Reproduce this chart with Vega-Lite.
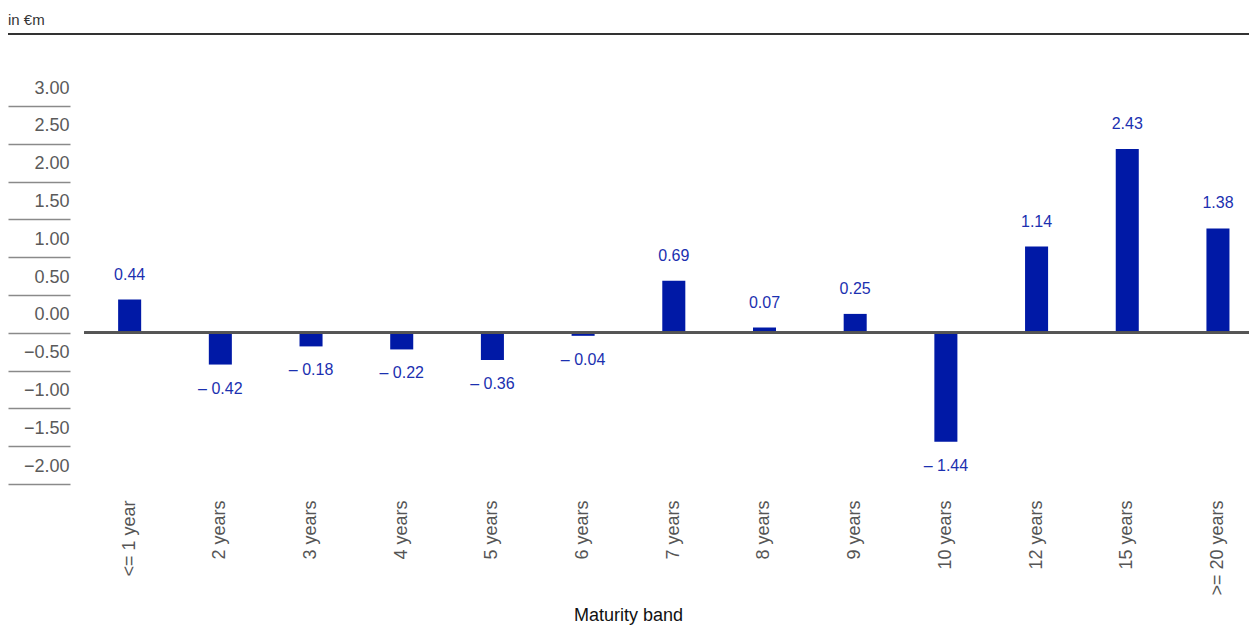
{
  "$schema": "https://vega.github.io/schema/vega-lite/v6.json",
  "autosize": "none",
  "width": 1241,
  "height": 378,
  "padding": {"left": 8, "top": 106, "right": 0, "bottom": 144},
  "background": "white",
  "title": {
    "text": "in €m",
    "anchor": "start",
    "frame": "group",
    "orient": "top",
    "offset": 5,
    "fontSize": 15,
    "fontWeight": "normal",
    "font": "Liberation Sans",
    "color": "#333333"
  },
  "config": {
    "view": {"stroke": null},
    "font": "Liberation Sans"
  },
  "data": {
    "values": [
      {"band": "<= 1 year", "value": 0.44, "label": "0.44"},
      {"band": "2 years", "value": -0.42, "label": "– 0.42"},
      {"band": "3 years", "value": -0.18, "label": "– 0.18"},
      {"band": "4 years", "value": -0.22, "label": "– 0.22"},
      {"band": "5 years", "value": -0.36, "label": "– 0.36"},
      {"band": "6 years", "value": -0.04, "label": "– 0.04"},
      {"band": "7 years", "value": 0.69, "label": "0.69"},
      {"band": "8 years", "value": 0.07, "label": "0.07"},
      {"band": "9 years", "value": 0.25, "label": "0.25"},
      {"band": "10 years", "value": -1.44, "label": "– 1.44"},
      {"band": "12 years", "value": 1.14, "label": "1.14"},
      {"band": "15 years", "value": 2.43, "label": "2.43"},
      {"band": ">= 20 years", "value": 1.38, "label": "1.38"}
    ]
  },
  "encoding": {
    "x": {
      "field": "band",
      "type": "nominal",
      "sort": null,
      "scale": {"range": [76.3, 1255.3], "paddingInner": 0, "paddingOuter": 0},
      "axis": {
        "orient": "bottom",
        "title": "Maturity band",
        "titleFontSize": 18,
        "titleFontWeight": "normal",
        "titleColor": "#111111",
        "titlePadding": 11,
        "titleX": 620,
        "labelAngle": -90,
        "labelFontSize": 18,
        "labelColor": "#555555",
        "labelPadding": 16,
        "domain": false,
        "ticks": false,
        "grid": false
      }
    },
    "y": {
      "field": "value",
      "type": "quantitative",
      "scale": {"domain": [-2, 3], "nice": false, "zero": false},
      "axis": {
        "orient": "left",
        "offset": -62,
        "title": null,
        "values": [-2, -1.5, -1, -0.5, 0, 0.5, 1, 1.5, 2, 2.5, 3],
        "format": ".2f",
        "domain": false,
        "grid": false,
        "ticks": true,
        "tickSize": 62,
        "tickColor": "#8a8a8a",
        "tickWidth": 1.5,
        "labelFontSize": 18,
        "labelColor": "#5a5a5a",
        "labelAlign": "right",
        "labelBaseline": "middle",
        "labelPadding": -61,
        "labelOffset": -18
      }
    }
  },
  "layer": [
    {
      "mark": {"type": "rule", "color": "#333333", "strokeWidth": 1},
      "encoding": {"x": null, "y": {"datum": 3.955}}
    },
    {
      "mark": {"type": "bar", "color": "#0019a6", "width": {"band": 0.254}}
    },
    {
      "mark": {"type": "rule", "color": "#555555", "strokeWidth": 2},
      "encoding": {
        "x": {"datum": "<= 1 year", "bandPosition": 0},
        "x2": {"datum": ">= 20 years", "bandPosition": 1},
        "y": {"datum": 0}
      }
    },
    {
      "transform": [{"filter": "datum.value >= 0"}],
      "mark": {"type": "text", "color": "#1b30b0", "fontSize": 16, "baseline": "middle", "dy": -25},
      "encoding": {"text": {"field": "label"}}
    },
    {
      "transform": [{"filter": "datum.value < 0"}],
      "mark": {"type": "text", "color": "#1b30b0", "fontSize": 16, "baseline": "middle", "dy": 24},
      "encoding": {"text": {"field": "label"}}
    }
  ]
}
